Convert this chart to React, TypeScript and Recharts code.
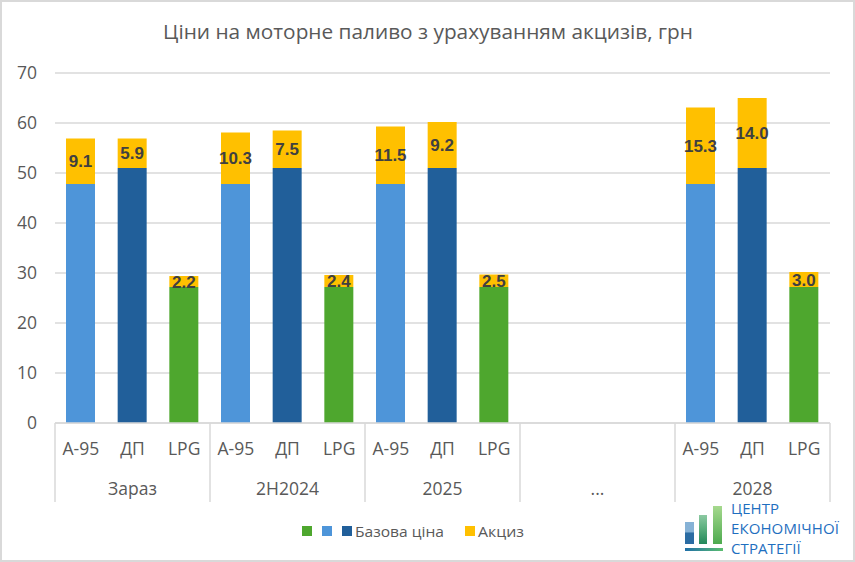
import React from 'react';
import { BarChart, Bar, XAxis, YAxis, CartesianGrid, Cell, LabelList } from 'recharts';

const groups = ['Зараз', '2H2024', '2025', '...', '2028'];
const fuels = ['A-95', 'ДП', 'LPG'];
const baseA95 = [47.8, 47.8, 47.8, null, 47.8];
const baseDP = [51.0, 51.0, 51.0, null, 51.0];
const baseLPG = [27.2, 27.2, 27.2, null, 27.2];
const exciseA95 = [9.1, 10.3, 11.5, null, 15.3];
const exciseDP = [5.9, 7.5, 9.2, null, 14.0];
const exciseLPG = [2.2, 2.4, 2.5, null, 3.0];
const yTicks = [0, 10, 20, 30, 40, 50, 60, 70];

const COLOR_A95 = '#4E95D9';
const COLOR_DP = '#215F9A';
const COLOR_LPG = '#4EA72E';
const fuelColorList = [COLOR_A95, COLOR_DP, COLOR_LPG];
const exciseColor = '#FFC000';
const FONT = '"Open Sans", "Noto Sans", sans-serif';
const LABEL_FONT = '"Liberation Sans", Arial, sans-serif';

const data: any[] = [];
groups.forEach((g, gi) => {
  const empty = g === '...';
  const bases = [baseA95[gi], baseDP[gi], baseLPG[gi]];
  const excises = [exciseA95[gi], exciseDP[gi], exciseLPG[gi]];
  fuels.forEach((f, fi) => {
    data.push({
      key: `${g}-${f}`,
      fuel: empty ? '' : f,
      color: fuelColorList[fi],
      group: g,
      pos: fi,
      base: bases[fi],
      excise: excises[fi],
    });
  });
});

const W = 855;
const H = 562;
const M = { top: 73, right: 25, left: 0, bottom: 54 };
const YW = 55;
const band = (W - M.left - M.right - YW) / data.length;

const GroupTick = (props: any) => {
  const { x, y, payload } = props;
  const idx = payload.index;
  const row = data[idx];
  const half = band / 2;
  const lineColor = '#D9D9D9';
  return (
    <g>
      {row.fuel ? (
        <text x={x} y={y + 32} textAnchor="middle" fill="#595959" fontSize={17.5} fontFamily={FONT}>
          {row.fuel}
        </text>
      ) : null}
      {row.pos === 1 ? (
        <text x={x} y={y + 72} textAnchor="middle" fill="#595959" fontSize={17.5} fontFamily={FONT}>
          {row.group}
        </text>
      ) : null}
      {row.pos === 0 ? (
        <line x1={x - half} x2={x - half} y1={y} y2={y + 79} stroke={lineColor} strokeWidth={1.5} />
      ) : null}
      {idx === data.length - 1 ? (
        <line x1={x + half} x2={x + half} y1={y} y2={y + 79} stroke={lineColor} strokeWidth={1.5} />
      ) : null}
    </g>
  );
};

const logoLines = ['ЦЕНТР', 'ЕКОНОМІЧНОЇ', 'СТРАТЕГІЇ'];

const Logo = () => (
  <div style={{ position: 'absolute', left: 684, top: 499, width: 168, height: 58 }}>
    <svg width={44} height={56} style={{ position: 'absolute', left: 0, top: 0 }}>
      <defs>
        <linearGradient id="lgA" x1="0" y1="0" x2="0" y2="1">
          <stop offset="0" stopColor="#86B2D6" />
          <stop offset="0.45" stopColor="#86B2D6" />
          <stop offset="0.5" stopColor="#2B6CA3" />
          <stop offset="1" stopColor="#2B6CA3" />
        </linearGradient>
        <linearGradient id="lgB" x1="0" y1="0" x2="0" y2="1">
          <stop offset="0" stopColor="#8CC9A2" />
          <stop offset="0.45" stopColor="#5DB07F" />
          <stop offset="1" stopColor="#23885A" />
        </linearGradient>
        <linearGradient id="lgC" x1="0" y1="0" x2="0" y2="1">
          <stop offset="0" stopColor="#A6D98E" />
          <stop offset="1" stopColor="#4DAA4F" />
        </linearGradient>
        <linearGradient id="lgD" x1="0" y1="0" x2="1" y2="0">
          <stop offset="0" stopColor="#1F6FA8" />
          <stop offset="1" stopColor="#5BBE6E" />
        </linearGradient>
      </defs>
      <rect x={1} y={23} width={9} height={22} fill="url(#lgA)" />
      <rect x={15} y={16} width={8} height={29} fill="url(#lgB)" />
      <rect x={29} y={7} width={9} height={38} fill="url(#lgC)" />
      <rect x={1} y={49} width={38} height={3} fill="url(#lgD)" />
    </svg>
    {logoLines.map((t, i) => (
      <div
        key={t}
        style={{
          position: 'absolute',
          left: 47,
          top: 2 + i * 20,
          fontFamily: FONT,
          fontSize: 15,
          lineHeight: '15px',
          color: '#1F6FC0',
          letterSpacing: 0.1,
          whiteSpace: 'nowrap',
        }}
      >
        {t}
      </div>
    ))}
  </div>
);

const LegendSvg = () => (
  <g>
    <rect x={302} y={526} width={10} height={10} fill={COLOR_LPG} />
    <rect x={322} y={526} width={10} height={10} fill={COLOR_A95} />
    <rect x={342} y={526} width={10} height={10} fill={COLOR_DP} />
    <text x={355} y={536.5} fill="#595959" fontSize={15} fontFamily={FONT} textLength={89} lengthAdjust="spacingAndGlyphs">
      Базова ціна
    </text>
    <rect x={465} y={526} width={10} height={10} fill={exciseColor} />
    <text x={478} y={536.5} fill="#595959" fontSize={15} fontFamily={FONT} textLength={46} lengthAdjust="spacingAndGlyphs">
      Акциз
    </text>
  </g>
);

export default function App() {
  return (
    <div style={{ position: 'absolute', left: 0, top: 0, width: W, height: H, background: '#fff' }}>
      <BarChart width={W} height={H} data={data} margin={M} barSize={29}>
        <text x={428} y={39} textAnchor="middle" fill="#595959" fontSize={20.8} fontFamily={FONT}>
          Ціни на моторне паливо з урахуванням акцизів, грн
        </text>
        <LegendSvg />
        <CartesianGrid vertical={false} stroke="#D9D9D9" strokeWidth={1.5} />
        <XAxis
          dataKey="key"
          interval={0}
          tickLine={false}
          tickSize={0}
          tickMargin={0}
          axisLine={{ stroke: '#D9D9D9', strokeWidth: 1.5 }}
          tick={<GroupTick />}
          height={85}
        />
        <YAxis
          width={YW}
          domain={[0, 70]}
          ticks={yTicks}
          axisLine={false}
          tickLine={false}
          tickSize={0}
          tickMargin={18}
          tick={{ fill: '#595959', fontSize: 17.5, fontFamily: FONT }}
        />
        <Bar dataKey="base" stackId="s" isAnimationActive={false}>
          {data.map((d) => (
            <Cell key={d.key} fill={d.color} />
          ))}
        </Bar>
        <Bar dataKey="excise" stackId="s" fill={exciseColor} isAnimationActive={false}>
          <LabelList
            dataKey="excise"
            position="center"
            formatter={(v: any) => (v == null ? '' : Number(v).toFixed(1))}
            fill="#404040"
            fontSize={17}
            fontWeight="bold"
            fontFamily={LABEL_FONT}
          />
        </Bar>
      </BarChart>
      <Logo />
      <div
        style={{
          position: 'absolute',
          left: 0,
          top: 0,
          width: W,
          height: H,
          boxSizing: 'border-box',
          border: '2px solid #D9D9D9',
          pointerEvents: 'none',
        }}
      />
    </div>
  );
}
